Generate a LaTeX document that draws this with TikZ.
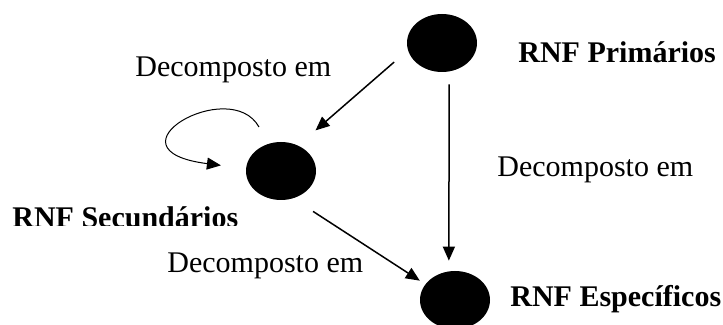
\documentclass[tikz,border=0pt]{standalone}
\usepackage{fontspec}
\setmainfont{Liberation Serif}
\usetikzlibrary{shapes.geometric,arrows.meta}

\begin{document}
\begin{tikzpicture}[x=0.5pt, y=-0.5pt, font=\fontsize{15}{18}\selectfont,
    requisito/.style ={ellipse, fill=black, inner sep=0pt, minimum width=35pt, minimum height=29pt},
    rotulo/.style ={anchor=base west, inner sep=0pt, font=\fontsize{15}{18}\selectfont\bfseries},
    decomp/.style ={-{Triangle[length=7pt,width=6pt]}, line width=0.75pt}]
   \useasboundingbox (0,0) rectangle (723,325);
   \node[requisito] (P) at (442,43)  {};
   \node[requisito] (S) at (281,171) {};
   \node[requisito] (E) at (455,300) {};

   \node[rotulo] (tP) at (518,63)  {RNF Primários};
   \node[rotulo] (tE) at (510,307) {RNF Específicos};
   \begin{scope}
     \clip (0,0) rectangle (723,226);
     \node[rotulo] (tS) at (12,228) {RNF Secundários};
   \end{scope}

   \node[anchor=base west, inner sep=0pt] (dPS) at (135,77)  {Decomposto em};
   \node[anchor=base west, inner sep=0pt] (dPE) at (497,177) {Decomposto em};
   \node[anchor=base west, inner sep=0pt] (dSE) at (167,273) {Decomposto em};

   \draw[decomp, shorten <=9pt, shorten >=11.4pt] (P.192) to (S.56);
   \draw[decomp, shorten <=6.25pt, shorten >=5.2pt] (P.284) to (E.102);
   \draw[decomp, shorten <=11.8pt, shorten >=3.2pt] (S.294) to (E.152);
   \draw[decomp, line width=0.5pt, shorten <=9.5pt, shorten >=12.5pt] (S.115) .. controls (230,75) and (100,150) .. (S.176);
\end{tikzpicture}
\end{document}
